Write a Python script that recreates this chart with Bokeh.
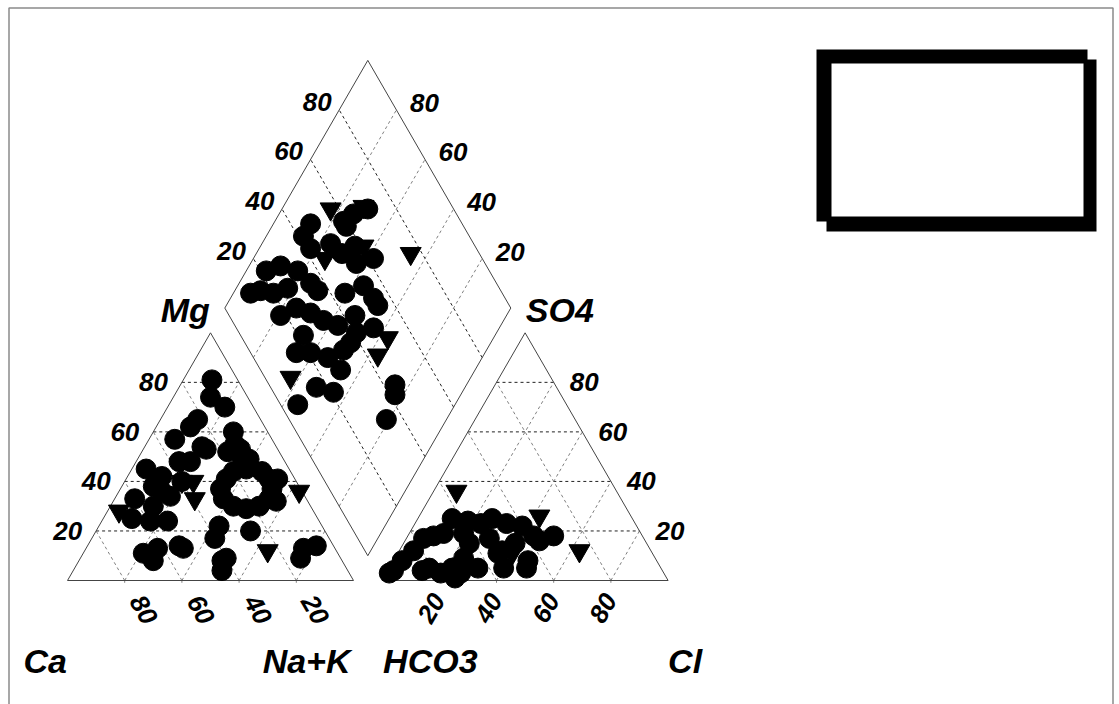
import math
from bokeh.plotting import figure
from bokeh.models import Range1d
from bokeh.core.properties import value
from bokeh.embed import file_html
from bokeh.resources import INLINE

# ---------------- data (percentages) ----------------
# Cation triangle: Mg %, Na+K % (Ca = rest)
cat_circle_mg = [81, 74, 70, 65, 62, 57, 60, 53, 48, 55, 50, 45, 42, 38, 40, 34, 33, 25, 30, 24, 24,
                 37, 41, 44, 45, 44, 41, 37, 33, 30, 29, 30, 33, 32, 41,
                 52, 53, 49, 22, 17, 20, 11, 13, 8, 14, 13, 9, 4, 13, 14, 9, 54, 48, 36, 8]
cat_circle_nak = [10, 13, 20, 13, 12, 9, 28, 22, 19, 31, 36, 5, 12, 11, 20, 19, 7, 10, 15, 17, 23,
                  53, 50, 46, 40, 36, 35, 35, 38, 43, 48, 52, 54, 57, 53,
                  30, 34, 39, 42, 43, 54, 21, 25, 26, 32, 34, 51, 52, 76, 80, 77, 20, 15, 15, 50]
cat_tri_mg = [28, 40, 40, 33, 36, 12]
cat_tri_nak = [4, 24, 20, 28, 63, 64]

# Anion triangle: SO4 %, Cl % (HCO3 = rest)
an_circle_so4 = [4, 8, 12, 17, 18, 5, 3, 5, 3, 5, 9, 15, 25, 24, 19, 23, 25, 23, 22, 18, 15, 5, 8, 5,
                 18, 4, 1, 3, 17, 11, 16, 12, 19]
an_circle_cl = [2, 3, 5, 6, 9, 14, 19, 22, 26, 31, 24, 23, 12, 18, 19, 23, 26, 32, 38, 44, 39, 40, 47, 48,
                51, 12, 25, 1, 29, 35, 47, 36, 12]
an_tri_so4 = [36, 26, 12, 11]
an_tri_cl = [8, 42, 63, 40]

# Diamond: value on the right-edge scale and on the left-edge scale
dia_circle_r = [70, 74, 76, 74, 87, 87, 82, 76, 70, 67, 63, 58, 93, 89, 82, 94, 91, 86, 82, 75, 71, 61,
                56, 50, 47, 79, 75, 69, 63, 57, 53, 49, 44, 67, 66, 61, 54, 50, 49, 47, 52, 45, 55,
                25, 23, 21]
dia_circle_l = [70, 64, 59, 59, 47, 42, 42, 50, 52, 58, 55, 62, 22, 28, 33, 12, 16, 20, 26, 35, 36, 45,
                53, 54, 54, 18, 25, 29, 32, 36, 44, 41, 48, 22, 16, 21, 26, 33, 37, 28, 16, 21, 6,
                44, 42, 34]
dia_tri_r = [83, 72, 64, 46, 37, 37, 63, 75]
dia_tri_l = [57, 69, 61, 76, 51, 44, 9, 45]

tick_values = [20, 40, 60, 80]
titles = ["Mg", "SO4", "Ca", "Na+K", "HCO3", "Cl"]

# ---------------- geometry ----------------
S3 = math.sqrt(3) / 2
GAP = 10
PX = 2.86                 # pixels per percent unit
ORIGIN_PX = (67, 580)     # canvas pixel of the cation triangle's left corner


def cat_xy(mg, nak):
    return nak + mg / 2, S3 * mg


def an_xy(so4, cl):
    return 100 + GAP + cl + so4 / 2, S3 * so4


def dia_xy(r, l):
    return 100 + GAP / 2 + (l - r) / 2, S3 * (GAP + r + l)


def px_to_data(px, py):
    return (px - ORIGIN_PX[0]) / PX, (ORIGIN_PX[1] - py) / PX


W, H = 1119, 704
x0, y1 = px_to_data(0, 0)
x1, y0 = px_to_data(W, H)

p = figure(width=W, height=H, x_range=Range1d(x0, x1), y_range=Range1d(y0, y1),
           output_backend="svg", toolbar_location=None, x_axis_type=None, y_axis_type=None,
           min_border=0)
p.grid.visible = False
p.outline_line_color = None
p.background_fill_color = "white"
p.border_fill_color = "white"

# page border
bl, bt = px_to_data(8.5, 7.5)
br, bb = px_to_data(1112.5, 730)
p.line([bl, bl, br, br], [bb, bt, bt, bb], line_color="#8a8a8a", line_width=1.5)

DASH = "3 3"
BLACKL = "#222222"
GRAYL = "#808080"

# ---- grid lines ----
blk_xs, blk_ys, gry_xs, gry_ys = [], [], [], []
for k in tick_values:
    for off in (0, 100 + GAP):
        blk_xs.append([off + k / 2, off + 100 - k / 2]); blk_ys.append([S3 * k, S3 * k])
        gry_xs.append([off + k, off + k + (100 - k) / 2]); gry_ys.append([0, S3 * (100 - k)])
        gry_xs.append([off + 100 - k, off + (100 - k) / 2]); gry_ys.append([0, S3 * (100 - k)])
    a, b = dia_xy(k, 0), dia_xy(k, 100)
    gry_xs.append([a[0], b[0]]); gry_ys.append([a[1], b[1]])
    a, b = dia_xy(0, k), dia_xy(100, k)
    blk_xs.append([a[0], b[0]]); blk_ys.append([a[1], b[1]])

p.multi_line(blk_xs, blk_ys, line_color=BLACKL, line_dash=DASH, line_width=1)
p.multi_line(gry_xs, gry_ys, line_color=GRAYL, line_dash=DASH, line_width=1)

tk_xs, tk_ys = [], []
for k in tick_values:
    for off in (0, 100 + GAP):
        tk_xs.append([off + k, off + k]); tk_ys.append([0, -0.8])
p.multi_line(tk_xs, tk_ys, line_color=GRAYL, line_width=1)

# ---- outlines ----
OUT = "#444444"
p.line([0, 100, 50, 0], [0, 0, S3 * 100, 0], line_color=OUT, line_width=1)
p.line([110, 210, 160, 110], [0, 0, S3 * 100, 0], line_color=OUT, line_width=1)
dv = [dia_xy(0, 0), dia_xy(100, 0), dia_xy(100, 100), dia_xy(0, 100), dia_xy(0, 0)]
p.line([v[0] for v in dv], [v[1] for v in dv], line_color=OUT, line_width=1)

# ---- points ----
CS = 20
TS = 21


def pts(fn, a, b):
    xy = [fn(u, v) for u, v in zip(a, b)]
    return [q[0] for q in xy], [q[1] for q in xy]


for fn, ca, cb, ta, tb in [(cat_xy, cat_circle_mg, cat_circle_nak, cat_tri_mg, cat_tri_nak),
                           (an_xy, an_circle_so4, an_circle_cl, an_tri_so4, an_tri_cl),
                           (dia_xy, dia_circle_r, dia_circle_l, dia_tri_r, dia_tri_l)]:
    xs, ys = pts(fn, ca, cb)
    p.scatter(xs, ys, marker="circle", size=CS, fill_color="black", line_color="black")
    xs, ys = pts(fn, ta, tb)
    p.scatter(xs, ys, marker="inverted_triangle", size=TS, fill_color="black", line_color="black")

# ---- tick labels ----
FONT = value("Liberation Sans")
TK = "26px"


def txt(x, y, t, align="center", angle=0.0, size=TK):
    p.text(x=[x], y=[y], text=[t], text_font=FONT, text_font_style="bold italic",
           text_font_size=size, text_align=align, text_baseline="middle", angle=angle,
           text_color="black")


for k in tick_values:
    txt(k + 19 / PX, -29 / PX, str(100 - k), angle=-math.pi / 3)
    txt(110 + k - 8 / PX, -27.5 / PX, str(k), angle=math.pi / 3)
    txt(k / 2 - 14 / PX, S3 * k, str(k), align="right")
    txt(210 - k / 2 + 16 / PX, S3 * k, str(k), align="left")
    px_, py_ = dia_xy(100, k)
    txt(px_ - 22 / PX, py_ + 8 / PX, str(k))
    px_, py_ = dia_xy(k, 100)
    txt(px_ + 28 / PX, py_ + 7 / PX, str(k))

# ---- titles ----
TT = "34px"
lv = dia_xy(100, 0)   # left vertex of the diamond
rv = dia_xy(0, 100)   # right vertex of the diamond
txt(lv[0] - 15 / PX, lv[1] - 2 / PX, titles[0], align="right", size=TT)
txt(rv[0] + 15 / PX, rv[1] - 2 / PX, titles[1], align="left", size=TT)
ty_ = -80 / PX
txt(0 - 44 / PX, ty_, titles[2], align="left", size=TT)
txt(100 - 3 / PX, ty_, titles[3], align="right", size=TT)
txt(110 + 1 / PX, ty_, titles[4], align="left", size=TT)
txt(210, ty_, titles[5], align="left", size=TT)


# ---- empty legend box (two offset thick frames) ----
def box(l, t, r, b, color):
    L, T = px_to_data(l, t)
    R, B = px_to_data(r, b)
    p.quad(left=[L], right=[R], top=[T], bottom=[B], fill_color=color, line_color=None)


box(816, 49, 1087, 221, "black")
box(826, 59, 1096, 231, "black")
box(831, 63, 1083, 216, "white")

open("out.html", "w").write(file_html(p, INLINE))
